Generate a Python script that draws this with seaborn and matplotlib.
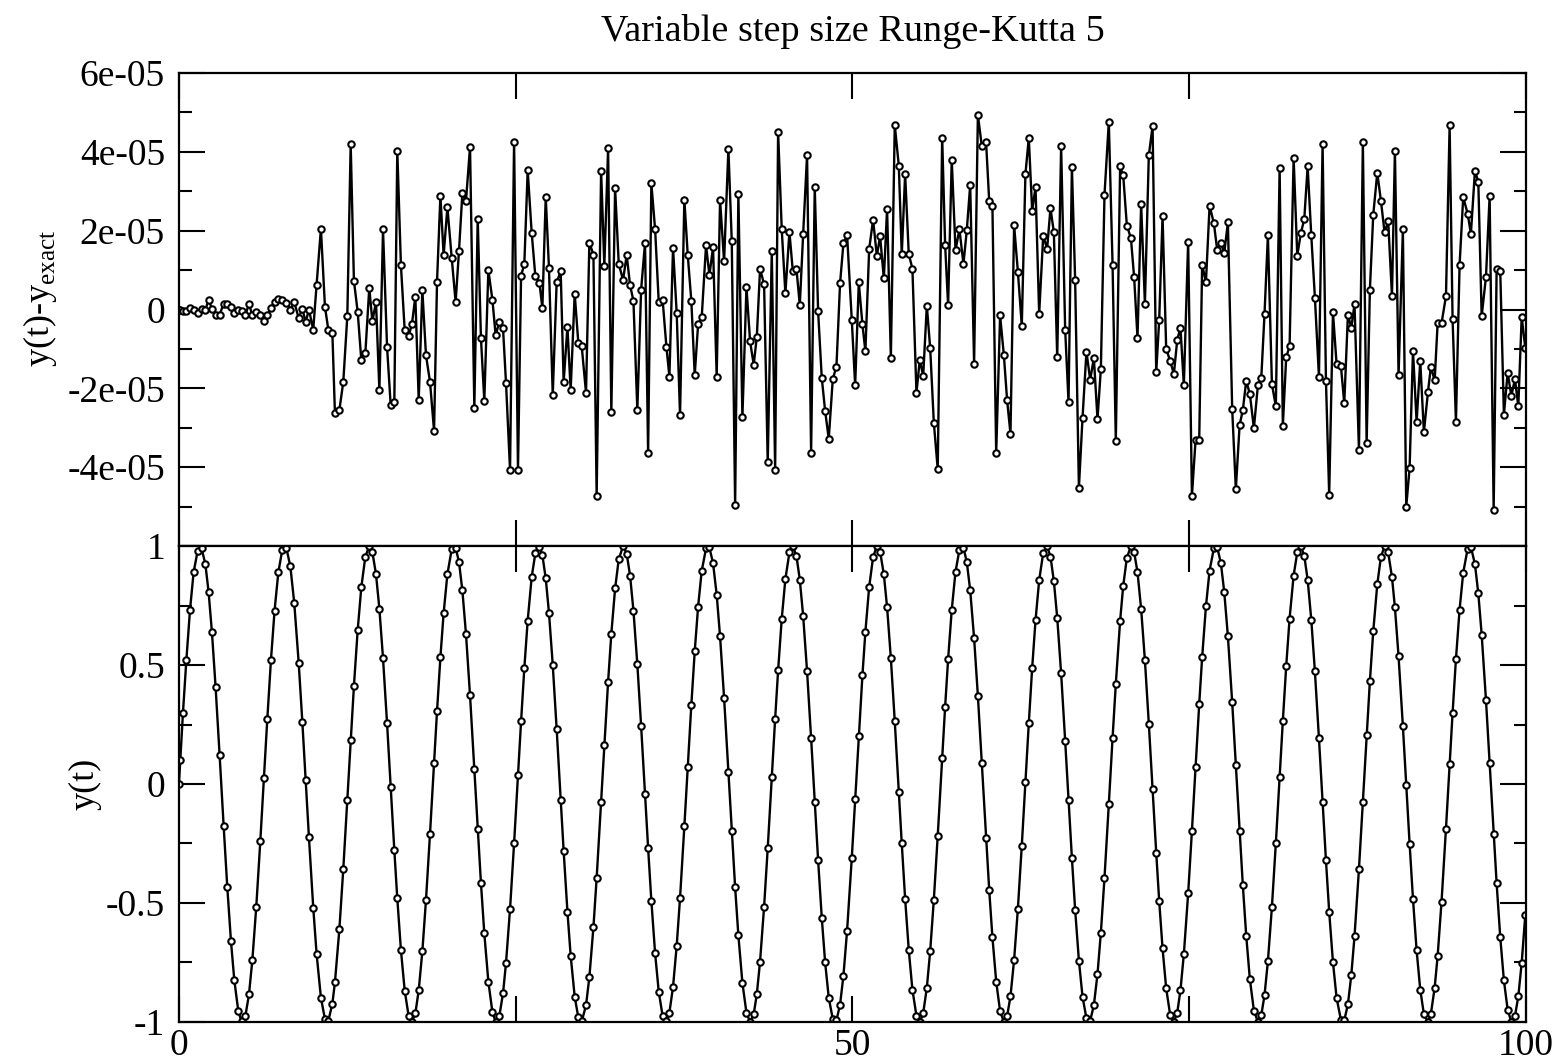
import numpy as np
import matplotlib
matplotlib.use("Agg")
import matplotlib.pyplot as plt
import seaborn as sns

# time points of the integrator
t = [0.0, 0.1, 0.3, 0.55, 0.82, 1.09, 1.39, 1.68, 1.96, 2.20, 2.45, 2.72, 3.02, 3.32, 3.59, 3.86, 4.11, 4.41, 4.65, 4.93,
     5.20, 5.45, 5.74, 6.04, 6.31, 6.56, 6.83, 7.10, 7.38, 7.67, 7.97, 8.27, 8.56, 8.89, 9.16, 9.41, 9.65,
     9.97, 10.22, 10.54, 10.84, 11.09, 11.39, 11.58, 11.91, 12.20, 12.50, 12.75, 12.99, 13.27, 13.54, 13.84, 14.13, 14.36,
     14.63, 14.88, 15.15, 15.45, 15.72, 15.99, 16.21, 16.48, 16.76, 17.05, 17.30, 17.55, 17.80, 18.07, 18.34, 18.64, 18.94,
     19.16, 19.41, 19.65, 19.93,
     20.25, 20.54, 20.79, 21.04, 21.31, 21.61, 21.93, 22.18, 22.42, 22.67, 22.97, 23.27, 23.51, 23.79, 24.06, 24.28, 24.58,
     24.88, 25.17, 25.40, 25.64, 25.89, 26.19, 26.46, 26.76, 26.98, 27.23, 27.47, 27.75, 28.04, 28.34, 28.56, 28.84, 29.08,
     29.38, 29.65, 29.90,
     30.22, 30.47, 30.77, 31.01, 31.34, 31.58, 31.86, 32.10, 32.38, 32.65, 32.97, 33.24, 33.49, 33.74, 34.03, 34.31, 34.60,
     34.83, 35.07, 35.35, 35.62, 35.91, 36.19, 36.41, 36.68, 36.95, 37.20, 37.52, 37.77, 38.04, 38.29, 38.54, 38.81, 39.13,
     39.38, 39.65,
     39.92, 40.17, 40.47, 40.79, 41.04, 41.29, 41.53, 41.83, 42.13, 42.40, 42.67, 42.90, 43.14, 43.44, 43.71, 44.01, 44.26,
     44.48, 44.75, 45.02, 45.32, 45.57, 45.84, 46.09, 46.34, 46.63, 46.93, 47.20, 47.45, 47.72, 47.97, 48.24, 48.54, 48.81,
     49.08, 49.33, 49.60,
     49.95, 50.20, 50.47, 50.74, 50.96, 51.24, 51.53, 51.81, 52.05, 52.33, 52.57, 52.85, 53.14, 53.44, 53.66, 53.91, 54.18,
     54.45, 54.75, 55.00, 55.25, 55.52, 55.77, 56.04, 56.33, 56.66, 56.88, 57.10, 57.37, 57.65, 57.94, 58.24, 58.49, 58.74,
     59.03, 59.31, 59.60,
     59.92, 60.15, 60.39, 60.67, 60.96, 61.24, 61.48, 61.73, 62.00, 62.28, 62.57, 62.84, 63.09, 63.34, 63.59, 63.86, 64.16,
     64.45, 64.70, 64.95, 65.20, 65.49, 65.79, 66.04, 66.29, 66.53, 66.81, 67.08, 67.37, 67.65, 67.92, 68.19, 68.44, 68.71,
     69.03, 69.31, 69.55,
     69.87, 70.10, 70.37, 70.67, 70.91, 71.16, 71.43, 71.71, 72.00, 72.28, 72.55, 72.77, 73.02, 73.29, 73.59, 73.86, 74.11,
     74.35, 74.60, 74.92, 75.20, 75.47, 75.74, 75.96, 76.24, 76.51, 76.83, 77.08, 77.35, 77.60, 77.87, 78.19, 78.46, 78.74,
     78.98, 79.23, 79.50, 79.80,
     80.10, 80.35, 80.59, 80.84, 81.14, 81.43, 81.71, 81.95, 82.20, 82.45, 82.75, 83.02, 83.29, 83.54, 83.79, 84.06, 84.33,
     84.63, 84.90, 85.15, 85.39, 85.67, 85.94, 86.26, 86.51, 86.78, 87.03, 87.27, 87.60, 87.89, 88.17, 88.41, 88.66, 88.96,
     89.23, 89.50, 89.77,
     90.05, 90.27, 90.54, 90.86, 91.11, 91.36, 91.61, 91.88, 92.15, 92.42, 92.72, 92.94, 93.22, 93.44, 93.73, 94.06, 94.33,
     94.55, 94.80, 95.07, 95.34, 95.67, 95.91, 96.21, 96.46, 96.71, 97.03, 97.30, 97.60, 97.82, 98.09, 98.36, 98.64, 98.91,
     99.18, 99.43, 99.68, 99.95]

# y(t) - y_exact, in units of 1e-5
err_e5 = [0.0, 0.0, -0.03, -0.05, 0.04, 0.0, -0.08, 0.02, -0.02, 0.25, 0.02, -0.15, -0.13, 0.15, 0.14, 0.07, -0.08, -0.02,
          -0.04, -0.15, 0.15, -0.15, -0.07, -0.15, -0.30, -0.15, 0.04, 0.19, 0.27, 0.25, 0.17, 0.0, 0.19, -0.22, 0.02, -0.32, 0.0,
          -0.51, 0.63, 2.05, 0.07, -0.51, -0.59, -2.62, -2.55, -1.84, -0.17, 4.20, 0.73, -0.06, -1.29, -1.10, 0.55, -0.30,
          0.19, -2.05, 2.03, -0.95, -2.43, -2.34, 4.03, 1.12, -0.53, -0.68, -0.36, 0.33, -2.30, 0.49, -1.16, -1.84, -3.08,
          0.71, 2.89, 1.38, 2.59,
          1.31, 0.19, 1.48, 2.95, 2.76, 4.12, -2.49, 2.30, -0.72, -2.32, 1.00, 0.25, -0.65, -0.31, -0.48, -1.86, -4.07,
          4.26, -4.07, 0.86, 1.15, 3.53, 1.93, 0.84, 0.68, 0.04, 2.86, 1.05, -2.17, 0.69, 0.97, -1.84, -0.44, -2.04,
          0.40, -0.85, -0.93,
          -2.11, 1.70, 1.39, -4.73, 3.52, 1.11, 4.09, -2.59, 3.07, 1.16, 0.75, 1.38, 0.62, 0.22, -2.55, 0.50, 1.69,
          -3.65, 3.20, 2.03, 0.18, 0.23, -0.95, -1.70, 1.57, -0.08, -2.68, 2.79, 1.39, 0.21, -1.67, -0.38, -0.19, 1.63,
          0.87, 1.58,
          -1.70, 2.78, 1.22, 4.08, 1.73, -4.96, 2.92, -2.73, 0.57, -0.81, -1.40, -0.69, 1.03, 0.64, -3.88, 1.48, -4.07,
          4.51, 2.03, 0.41, 1.97, 0.98, 1.04, 0.11, 1.92, 3.92, -3.63, 3.11, -0.05, -1.73, -2.57, -3.28, -1.76, -1.45,
          0.67, 1.68, 1.90,
          -0.27, -1.92, 0.69, -0.38, -1.06, 1.53, 2.28, 1.36, 1.86, 0.79, 2.55, -1.22, 4.68, 3.65, 1.40, 3.43, 1.40,
          1.04, -2.11, -1.27, -1.69, 0.10, -0.98, -2.87, -4.05, 4.36, 1.63, 0.11, 3.80, 1.51, 2.03, 1.16, 2.02, 3.16,
          -1.37, 4.94, 4.15,
          4.24, 2.76, 2.63, -3.65, -0.15, -1.16, -2.30, -3.15, 2.14, 0.96, -0.41, 3.44, 4.35, 2.51, 3.11, -0.11, 1.87,
          1.54, 2.57, 1.96, -1.21, 4.14, -0.51, -2.35, 3.62, 0.76, -4.52, -2.74, -1.07, -1.79, -1.22, -2.78, -1.51, 2.91,
          4.76, 1.12, -3.33,
          3.63, 3.40, 2.13, 1.81, 0.82, -0.72, 2.67, 0.15, 3.91, 4.65, -1.59, -0.27, 2.36, -1.00, -1.31, -1.64, -0.77,
          -0.46, -1.92, 1.72, -4.73, -3.32, -3.32, 1.14, 0.69, 2.63, 2.19, 1.50, 1.69, 1.43, 2.21, -2.53, -4.56, -2.93,
          -2.55, -1.81, -2.14, -3.01,
          -1.92, -1.73, -0.11, 1.88, -1.90, -2.45, 3.59, -2.95, -1.21, -0.93, 3.85, 1.37, 1.94, 2.29, 3.63, 1.88, 0.30,
          -1.71, 4.20, -1.81, -4.71, -0.07, -1.39, -1.43, -2.38, -0.13, -0.46, 0.13, -3.57, 4.25, -3.38, 0.49, 2.40, 3.47,
          2.76, 1.96, 2.24,
          0.35, 4.03, -1.67, 2.03, -5.00, -4.02, -1.04, -2.85, -1.31, -3.11, -2.10, -1.45, -1.80, -0.35, -0.35, 0.34, 4.67,
          -0.24, -2.85, 1.13, 2.85, 2.43, 1.92, 3.52, 3.24, -0.17, 0.83, 2.88, -5.09, 1.04, 0.97, -2.67, -1.60, -2.19,
          -1.77, -2.45, -0.19, -0.98]

# y(t)
y = [0.00, 0.10, 0.30, 0.52, 0.73, 0.89, 0.98, 0.99, 0.925, 0.808, 0.638, 0.409, 0.121, -0.177, -0.434, -0.658, -0.824,
     -0.955, -0.998, -0.976, -0.884, -0.740, -0.517, -0.241, 0.027, 0.273, 0.520, 0.729, 0.890, 0.983, 0.993, 0.915, 0.761,
     0.510, 0.262, 0.015, -0.223,
     -0.519, -0.714, -0.898, -0.988, -0.996, -0.923, -0.834, -0.610, -0.358, -0.066, 0.183, 0.411, 0.647, 0.827, 0.956,
     1.000, 0.975, 0.881, 0.737, 0.529, 0.255, -0.012, -0.278, -0.481, -0.698, -0.868, -0.974, -1.000, -0.964, -0.867,
     -0.703, -0.488, -0.208, 0.090, 0.306, 0.532, 0.718, 0.882,
     0.986, 0.993, 0.933, 0.814, 0.630, 0.372, 0.061, -0.188, -0.416, -0.628, -0.830, -0.958, -0.999, -0.974, -0.879,
     -0.753, -0.525, -0.250, 0.037, 0.264, 0.486, 0.687, 0.871, 0.970, 0.998, 0.962, 0.864, 0.720, 0.501, 0.232, -0.066,
     -0.282, -0.536, -0.721, -0.894, -0.981, -0.998,
     -0.930, -0.811, -0.602, -0.395, -0.076, 0.163, 0.430, 0.632, 0.822, 0.944, 1.000, 0.968, 0.876, 0.729, 0.503, 0.245,
     -0.042, -0.269, -0.490, -0.712, -0.873, -0.976, -0.998, -0.961, -0.852, -0.681, -0.479, -0.178, 0.071, 0.334, 0.557,
     0.745, 0.896, 0.990, 0.994, 0.928,
     0.796, 0.621, 0.362, 0.051, -0.198, -0.434, -0.636, -0.836, -0.961, -1.000, -0.967, -0.883, -0.746, -0.516, -0.269,
     0.028, 0.274, 0.477, 0.695, 0.861, 0.973, 1.000, 0.959, 0.859, 0.706, 0.474, 0.193, -0.076, -0.320, -0.561, -0.749,
     -0.898, -0.988, -0.993, -0.927, -0.805, -0.617,
     -0.310, -0.065, 0.203, 0.457, 0.640, 0.828, 0.953, 1.000, 0.977, 0.881, 0.743, 0.529, 0.264, -0.033, -0.250, -0.482,
     -0.698, -0.864, -0.974, -1.000, -0.963, -0.857, -0.702, -0.487, -0.217, 0.111, 0.325, 0.524, 0.732, 0.892, 0.984,
     0.993, 0.932, 0.814, 0.613, 0.371, 0.090,
     -0.228, -0.444, -0.644, -0.830, -0.955, -1.000, -0.976, -0.892, -0.739, -0.524, -0.259, 0.008, 0.255, 0.487, 0.688,
     0.856, 0.971, 0.999, 0.956, 0.853, 0.699, 0.465, 0.182, -0.066, -0.311, -0.528, -0.742, -0.894, -0.985, -0.994,
     -0.930, -0.799, -0.625, -0.394, -0.085, 0.194, 0.421,
     0.686, 0.833, 0.950, 1.000, 0.975, 0.890, 0.736, 0.520, 0.254, -0.023, -0.289, -0.491, -0.691, -0.859, -0.972,
     -0.999, -0.961, -0.866, -0.716, -0.460, -0.197, 0.072, 0.335, 0.533, 0.746, 0.897, 0.990, 0.994, 0.928, 0.807,
     0.621, 0.343, 0.080, -0.199, -0.426, -0.637, -0.819, -0.952,
     -1.000, -0.971, -0.887, -0.745, -0.515, -0.249, 0.029, 0.266, 0.496, 0.695, 0.876, 0.973, 0.999, 0.959, 0.859,
     0.691, 0.473, 0.192, -0.077, -0.321, -0.537, -0.749, -0.899, -0.991, -0.993, -0.926, -0.804, -0.640, -0.357, -0.075,
     0.204, 0.431, 0.641, 0.839, 0.954, 0.999, 0.973,
     0.870, 0.742, 0.536, 0.244, -0.004, -0.251, -0.483, -0.699, -0.864, -0.967, -0.999, -0.966, -0.856, -0.723, -0.495,
     -0.187, 0.082, 0.298, 0.525, 0.733, 0.888, 0.989, 0.996, 0.924, 0.801, 0.628, 0.352, 0.089, -0.209, -0.417, -0.645,
     -0.825, -0.949, -0.999, -0.976, -0.892, -0.752, -0.549]

err_ticks = [-6e-5, -4e-5, -2e-5, 0, 2e-5, 4e-5, 6e-5]
err_labels = ["", "-4e-05", "-2e-05", "0", "2e-05", "4e-05", "6e-05"]
y_ticks = [-1, -0.5, 0, 0.5, 1]
y_labels = ["-1", "-0.5", "0", "0.5", "1"]
x_ticks = [0, 25, 50, 75, 100]
x_labels = ["0", "", "50", "", "100"]

sns.set_style("ticks")
plt.rcParams['font.family'] = ['Liberation Serif', 'DejaVu Serif']
plt.rcParams['axes.unicode_minus'] = False
for k in ("text.color", "axes.labelcolor", "xtick.color", "ytick.color", "axes.edgecolor"):
    plt.rcParams[k] = "black"

fig = plt.figure(figsize=(15.6, 10.64), dpi=100)
ax1 = fig.add_axes([0.1147, 0.4868, 0.8635, 0.4446])
ax2 = fig.add_axes([0.1147, 0.0395, 0.8635, 0.4473])

line_kw = dict(color="black", linewidth=1.7, marker="o", markersize=4.6,
               markerfacecolor="white", markeredgecolor="black", markeredgewidth=1.5,
               estimator=None, sort=False)

df = {"t": np.array(t), "err": np.array(err_e5) * 1e-5, "y": np.array(y)}
sns.lineplot(x=df["t"], y=df["err"], ax=ax1, **line_kw)
sns.lineplot(x=df["t"], y=df["y"], ax=ax2, **line_kw)

for ax in (ax1, ax2):
    ax.set_xlim(0, 100)
    ax.set_xticks(x_ticks)
    ax.xaxis.set_minor_locator(plt.NullLocator())
    ax.tick_params(which="major", direction="in", length=19, width=1.5,
                   top=True, right=True, labelsize=27, colors="black")
    ax.tick_params(which="minor", direction="in", length=9, width=1.5,
                   top=True, right=True, colors="black")
    ax.tick_params(axis="y", pad=10)
    ax.tick_params(axis="x", pad=5)
    for s in ax.spines.values():
        s.set_linewidth(1.6)
        s.set_color("black")
    ax.set_xlabel("")
    ax.set_ylabel("")

ax1.set_ylim(-6e-5, 6e-5)
ax1.set_yticks(err_ticks)
ax1.set_yticklabels(err_labels)
ax1.yaxis.set_minor_locator(plt.MultipleLocator(1e-5))
ax1.set_xticklabels([])

ax2.set_ylim(-1, 1)
ax2.set_yticks(y_ticks)
ax2.set_yticklabels(y_labels)
ax2.yaxis.set_minor_locator(plt.MultipleLocator(0.25))
ax2.set_xticklabels(x_labels)

fig.text(0.5465, 0.970, "Variable step size Runge-Kutta 5", ha="center", va="center", fontsize=27.5)
fig.text(0.0256, 0.720, "y(t)-y$_{\\mathregular{exact}}$", rotation=90, ha="center", va="center", fontsize=26)
fig.text(0.0545, 0.263, "y(t)", rotation=90, ha="center", va="center", fontsize=26)

fig.savefig("out.png", dpi=100)
